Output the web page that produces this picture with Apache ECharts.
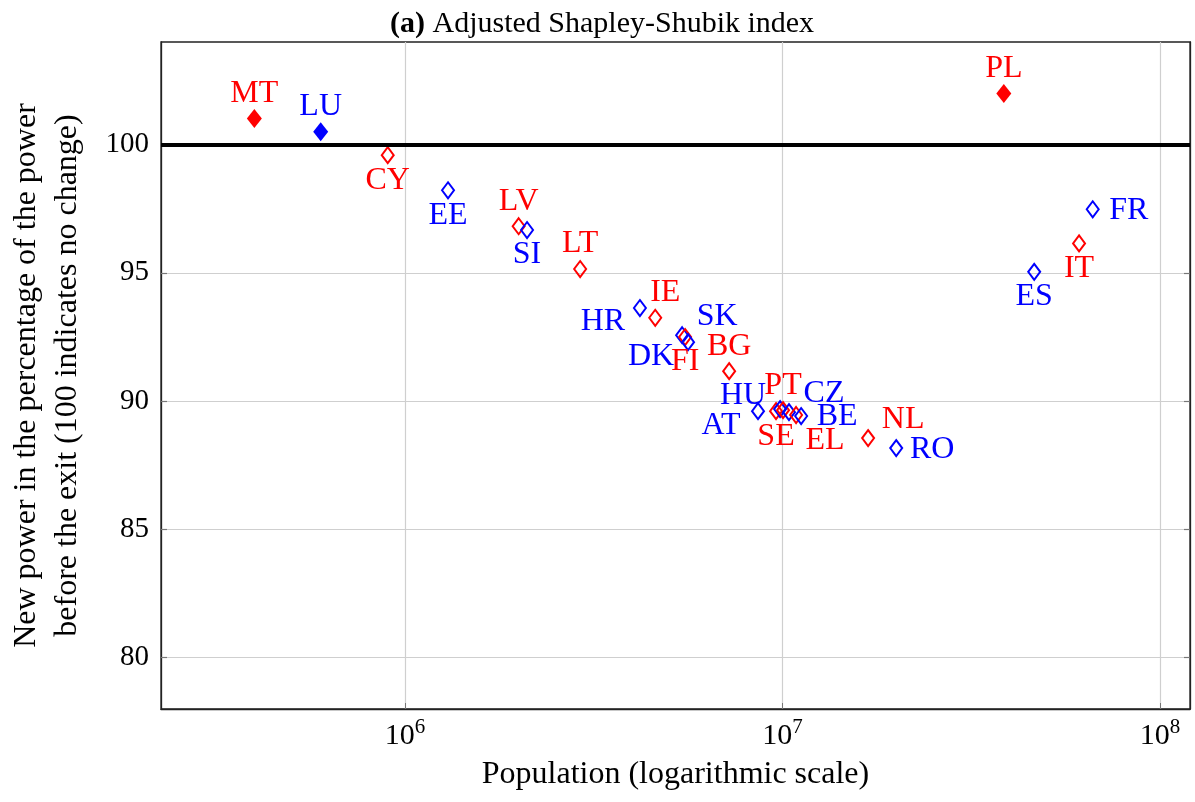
<!DOCTYPE html>
<html><head><meta charset="utf-8">
<script src="https://cdn.jsdelivr.net/npm/echarts@6/dist/echarts.min.js"></script>
<style>html,body{margin:0;padding:0;background:#fff}#c{width:1195px;height:802px}</style>
</head><body><div id="c"></div>
<script>
// ---- data ----
const countries = ['MT','LU','CY','EE','LV','SI','LT','HR','IE','SK','FI','DK','BG','AT','SE','HU','PT','CZ','EL','BE','NL','RO','PL','ES','IT','FR'];
const population = [3.99e5, 5.98e5, 9.0e5, 1.30e6, 2.00e6, 2.105e6, 2.91e6, 4.19e6, 4.60e6, 5.42e6, 5.52e6, 5.62e6, 7.22e6, 8.61e6, 9.61e6, 9.85e6, 1.003e7, 1.04e7, 1.086e7, 1.12e7, 1.685e7, 2.0e7, 3.855e7, 4.64e7, 6.10e7, 6.63e7];
const newPower = [101.02, 100.5, 99.59, 98.22, 96.82, 96.67, 95.15, 93.63, 93.25, 92.57, 92.50, 92.30, 91.17, 89.61, 89.61, 89.69, 89.65, 89.57, 89.46, 89.42, 88.56, 88.17, 101.99, 95.04, 96.15, 97.48];
const colourGroup = ['R','B','R','B','R','B','R','B','R','B','R','B','R','B','R','B','R','B','R','B','R','B','R','B','R','B'];
const labelPlacement = ['above','above','below','below','above','below','above','belowLeft','aboveNear','aboveRight','below','belowLeft','above','belowLeft','below','aboveLeft','above','aboveRight','belowRight','right','aboveRight','right','above','below','below','right'];
const xTickExponents = [6, 7, 8];
const yTicks = [80, 85, 90, 95, 100];
const xRange = [2.258e5, 1.2e8];
const yRange = [78, 104];
const referenceLevel = 100;

// ---- presentation ----
const FONT = 'Liberation Serif';
const RED = '#ff0000', BLUE = '#0000ff';
const OFFSETS = {
  above: [0, -25], below: [0, 25], right: [36, 1],
  aboveRight: [35, -19], belowLeft: [-37, 14], aboveLeft: [-37, -14],
  belowRight: [29, 26], aboveNear: [10, -25]
};

const items = countries.map((c, i) => {
  const col = colourGroup[i] === 'R' ? RED : BLUE;
  const filled = newPower[i] > referenceLevel;
  return {
    name: c,
    value: [Math.log10(population[i]), newPower[i]],
    symbolSize: filled ? [15, 19] : [12, 16],
    itemStyle: { opacity: 1, color: filled ? col : 'rgba(0,0,0,0)', borderColor: col, borderWidth: filled ? 0 : 2 },
    label: { show: true, formatter: c, position: 'inside', offset: OFFSETS[labelPlacement[i]],
      color: col, opacity: 1, fontFamily: FONT, fontSize: 32 }
  };
});

const chart = echarts.init(document.getElementById('c'), null, { renderer: 'canvas' });
const yAxisBase = {
  type: 'value', min: yRange[0], max: yRange[1],
  axisLine: { show: true, lineStyle: { color: '#222', width: 1.3 } },
  axisTick: { show: true, inside: true, length: 6, customValues: yTicks, lineStyle: { color: '#777', width: 1.2 } },
  splitLine: { show: true, lineStyle: { color: '#cfcfcf', width: 1.2 } }
};
chart.setOption({
  animation: false,
  backgroundColor: '#fff',
  title: {
    text: '{b|(a)} Adjusted Shapley-Shubik index',
    left: 385, top: 4,
    textStyle: { fontFamily: FONT, fontSize: 30, fontWeight: 'normal', color: '#000',
      rich: { b: { fontFamily: FONT, fontSize: 30, fontWeight: 'bold', color: '#000' } } }
  },
  grid: { left: 161, right: 5, top: 42, bottom: 93, containLabel: false, outerBoundsMode: 'none',
    show: true, borderColor: '#222', borderWidth: 1.3 },
  xAxis: {
    type: 'value', min: Math.log10(xRange[0]), max: Math.log10(xRange[1]),
    name: 'Population (logarithmic scale)', nameLocation: 'middle', nameGap: 50,
    nameTextStyle: { fontFamily: FONT, fontSize: 32, color: '#000' },
    axisLine: { show: true, lineStyle: { color: '#222', width: 1.3 } },
    axisTick: { show: true, inside: true, length: 6, customValues: xTickExponents, lineStyle: { color: '#777' } },
    splitLine: { show: true, lineStyle: { color: '#cfcfcf', width: 1.2 } },
    axisLabel: {
      customValues: xTickExponents, margin: 8,
      formatter: v => '{n|10}{s|' + Math.round(v) + '}',
      rich: {
        n: { fontFamily: FONT, fontSize: 30, color: '#000', verticalAlign: 'bottom', lineHeight: 34 },
        s: { fontFamily: FONT, fontSize: 21, color: '#000', verticalAlign: 'top', lineHeight: 34 }
      }
    }
  },
  yAxis: [
    Object.assign({}, yAxisBase, {
      position: 'left',
      name: 'New power in the percentage of the power\nbefore the exit (100 indicates no change)',
      nameLocation: 'middle', nameGap: 73,
      nameTextStyle: { fontFamily: FONT, fontSize: 32, color: '#000', lineHeight: 41 },
      axisLabel: { customValues: yTicks, margin: 12, fontFamily: FONT, fontSize: 29, color: '#000' }
    }),
    Object.assign({}, yAxisBase, {
      position: 'right', splitLine: { show: false },
      axisLabel: { show: false, customValues: yTicks }
    })
  ],
  series: [{
    type: 'scatter', symbol: 'diamond', data: items, yAxisIndex: 0,
    itemStyle: { opacity: 1 },
    markLine: {
      silent: true, symbol: ['none', 'none'], label: { show: false },
      lineStyle: { color: '#000', width: 4, type: 'solid', opacity: 1 },
      data: [{ yAxis: referenceLevel }]
    }
  }]
});
</script></body></html>
